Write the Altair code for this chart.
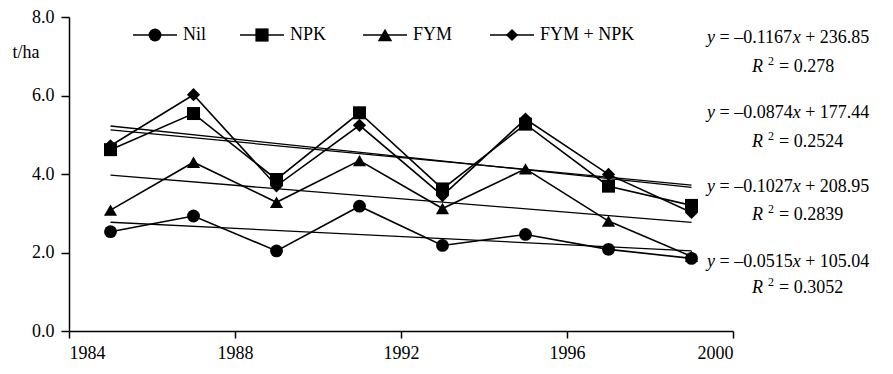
import altair as alt
import pandas as pd

# ---- data ----
years = [1985, 1987, 1989, 1991, 1993, 1995, 1997, 1999]
nil = [2.53, 2.93, 2.04, 3.18, 2.18, 2.46, 2.08, 1.85]
npk = [4.62, 5.54, 3.86, 5.56, 3.62, 5.27, 3.69, 3.20]
fym = [3.08, 4.30, 3.28, 4.34, 3.12, 4.13, 2.80, 1.90]
fym_npk = [4.72, 6.02, 3.70, 5.24, 3.45, 5.40, 3.99, 3.02]

series_names = ["Nil", "NPK", "FYM", "FYM + NPK"]
shapes = ["circle", "square", "triangle-up", "diamond"]
shape_sizes = [165, 175, 210, 150]

x_ticks = [1984, 1988, 1992, 1996, 2000]
y_ticks = [0, 2, 4, 6, 8]

equations = [
    ("–0.1167", "236.85", "0.278"),
    ("–0.0874", "177.44", "0.2524"),
    ("–0.1027", "208.95", "0.2839"),
    ("–0.0515", "105.04", "0.3052"),
]

rows = []
for name, vals in zip(series_names, [nil, npk, fym, fym_npk]):
    for yr, v in zip(years, vals):
        rows.append({"year": yr, "series": name, "value": v})
df = pd.DataFrame(rows)

FONT = "'Liberation Serif', 'Times New Roman', serif"
FS = 18

xenc = alt.X("year:Q",
             scale=alt.Scale(domain=[1984, 2000], nice=False, zero=False),
             axis=alt.Axis(values=x_ticks, format="d", title=None, grid=False,
                           tickSize=7, labelPadding=6))
yenc = alt.Y("value:Q",
             scale=alt.Scale(domain=[0, 8], nice=False),
             axis=alt.Axis(values=y_ticks, format=".1f", grid=False, tickSize=8,
                           labelPadding=7, title="t/ha", titleAngle=0,
                           titleX=-57, titleY=35, titleAlign="left",
                           titleBaseline="middle", titleFontWeight="normal",
                           titleFont=FONT, titleFontSize=18, titleColor="black"))

base = alt.Chart(df)

lines = base.mark_line(color="black", strokeWidth=1.6).encode(
    x=xenc, y=yenc, detail="series:N")

trend = base.transform_regression(
    "year", "value", groupby=["series"], extent=[1985, 1999]
).mark_line(color="black", strokeWidth=1.3).encode(
    x="year:Q", y="value:Q", detail="series:N")

points = base.mark_point(filled=True, color="black", opacity=1).encode(
    x="year:Q", y="value:Q",
    shape=alt.Shape("series:N", scale=alt.Scale(domain=series_names, range=shapes), legend=None),
    size=alt.Size("series:N", scale=alt.Scale(domain=series_names, range=shape_sizes), legend=None),
)

layers = [trend, lines, points]

one = alt.Data(values=[{}])

# ---- manual legend inside plot top ----
legend_left = [64, 171, 294, 421]
LY = 18
for name, shp, sz, L in zip(series_names, shapes, shape_sizes, legend_left):
    layers.append(alt.Chart(one).mark_rule(color="black", strokeWidth=1.6).encode(
        x=alt.value(L), x2=alt.value(L + 44), y=alt.value(LY)))
    layers.append(alt.Chart(one).mark_point(shape=shp, filled=True, color="black",
                                            size=sz, opacity=1).encode(
        x=alt.value(L + 22), y=alt.value(LY)))
    layers.append(alt.Chart(one).mark_text(align="left", baseline="middle", font=FONT,
                                           fontSize=FS, color="black").encode(
        x=alt.value(L + 50), y=alt.value(LY), text=alt.value(name)))

# ---- regression equations on the right ----
def txt(s, x, y, italic=False, size=FS):
    return alt.Chart(one).mark_text(align="left", baseline="middle", font=FONT,
                                    fontSize=size, color="black",
                                    fontStyle="italic" if italic else "normal").encode(
        x=alt.value(x), y=alt.value(y), text=alt.value(s))

eq_y = [21, 96, 170, 245]
r_y = [50, 125, 198, 271]
EQX = 638
RX = 683
em = FS
for (slope, icpt, r2), ey, ry in zip(equations, eq_y, r_y):
    seg2 = "= " + slope
    seg4 = "+ " + icpt
    w_y = 0.444 * em
    w_sp = 0.25 * em
    w_seg2 = (0.564 + 0.25 + 0.5 + 0.25 + 0.5 * 5) * em
    p2 = EQX + w_y + w_sp
    p3 = p2 + w_seg2
    p4 = p3 + 0.444 * em + w_sp
    layers.append(txt("y", EQX, ey, italic=True))
    layers.append(txt(seg2, p2, ey))
    layers.append(txt("x", p3, ey, italic=True))
    layers.append(txt(seg4, p4, ey))
    layers.append(txt("R", RX, ry, italic=True))
    layers.append(txt("2", RX + 16, ry - 6, size=12))
    layers.append(txt("= " + r2, RX + 27, ry))

chart = alt.layer(*layers).properties(
    width=664, height=314,
    autosize=alt.AutoSizeParams(type="none"),
    padding={"left": 61, "top": 9, "right": 150, "bottom": 30},
    background="white",
).configure_view(stroke=None).configure_axis(
    domainColor="black", domainWidth=1.5, tickColor="black", tickWidth=1.5,
    labelFont=FONT, labelFontSize=FS, labelColor="black",
)

chart.save("out.html", embed_options={"renderer": "svg", "actions": False})
